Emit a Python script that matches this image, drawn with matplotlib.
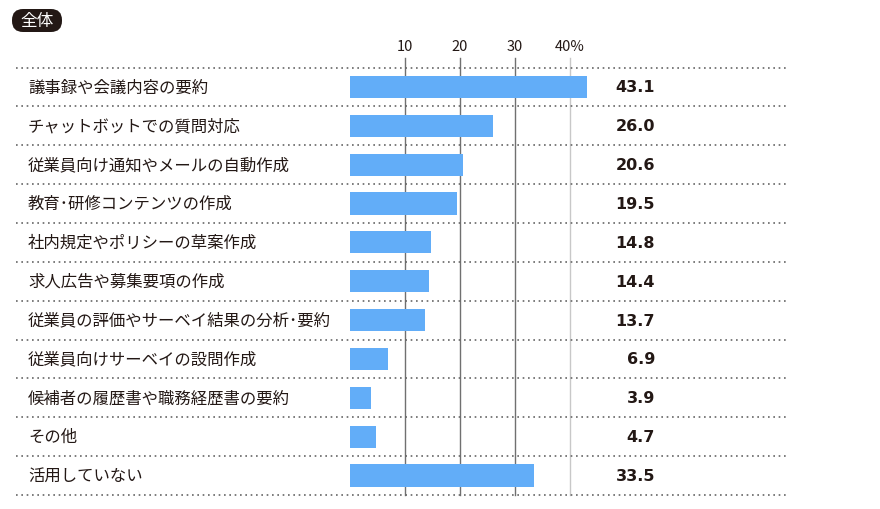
import matplotlib
matplotlib.use("Agg")
import matplotlib.pyplot as plt
from matplotlib.patches import FancyBboxPatch

plt.rcParams['font.family'] = ['Noto Sans CJK JP', 'DejaVu Sans']

categories = [
    "議事録や会議内容の要約",
    "チャットボットでの質問対応",
    "従業員向け通知やメールの自動作成",
    "教育･研修コンテンツの作成",
    "社内規定やポリシーの草案作成",
    "求人広告や募集要項の作成",
    "従業員の評価やサーベイ結果の分析･要約",
    "従業員向けサーベイの設問作成",
    "候補者の履歴書や職務経歴書の要約",
    "その他",
    "活用していない",
]
values = [43.1, 26.0, 20.6, 19.5, 14.8, 14.4, 13.7, 6.9, 3.9, 4.7, 33.5]
ticks = [10, 20, 30, 40]
tick_labels = ["10", "20", "30", "40%"]
title = "全体"

W, H = 880, 510
fig = plt.figure(figsize=(W / 100, H / 100), dpi=100)
ax = fig.add_axes([0, 0, 1, 1])
ax.axis('off')

x0 = 350.0
ppu = 5.5
y0 = 88.0
row = 38.85
ax.set_xlim(-x0 / ppu, (W - x0) / ppu)
ax.set_ylim((H - y0) / row, (0 - y0) / row)

def px2x(p):
    return (p - x0) / ppu

def py2y(p):
    return (p - y0) / row

n = len(categories)
# gridlines + tick labels
for t, lab in zip(ticks, tick_labels):
    col = '#c8c8c8' if t == 40 else '#707070'
    ax.plot([t, t], [py2y(59), n - 0.5], color=col, lw=1.0, zorder=1)
    ax.text(t, py2y(47), lab, ha='center', va='center', fontsize=10.5,
            color='#231815')

# separators
for i in range(n + 1):
    ax.plot([px2x(16), px2x(786)], [i - 0.5, i - 0.5], color='#666666',
            lw=1.2, linestyle=(0, (1, 2.2)), zorder=1)

ax.barh(range(n), values, height=0.57, color='#62adf8', zorder=2)

for i, (c, v) in enumerate(zip(categories, values)):
    ax.text(px2x(28), i, c, ha='left', va='center', fontsize=11.8, color='#231815')
    ax.text(px2x(655), i, f"{v:.1f}", ha='right', va='center', fontsize=11.5,
            fontweight='bold', color='#231815', family=['DejaVu Sans'])

# title badge
badge = FancyBboxPatch((0.12, (H - 33) / 100), 0.50, 0.23,
                       boxstyle="round,pad=0,rounding_size=0.11",
                       transform=fig.dpi_scale_trans, facecolor='#231815',
                       edgecolor='none')
fig.patches.append(badge)
fig.text(37 / W, 1 - 21.5 / H, title, ha='center', va='center', color='white',
         fontsize=12)

fig.savefig("out.png", dpi=100)
